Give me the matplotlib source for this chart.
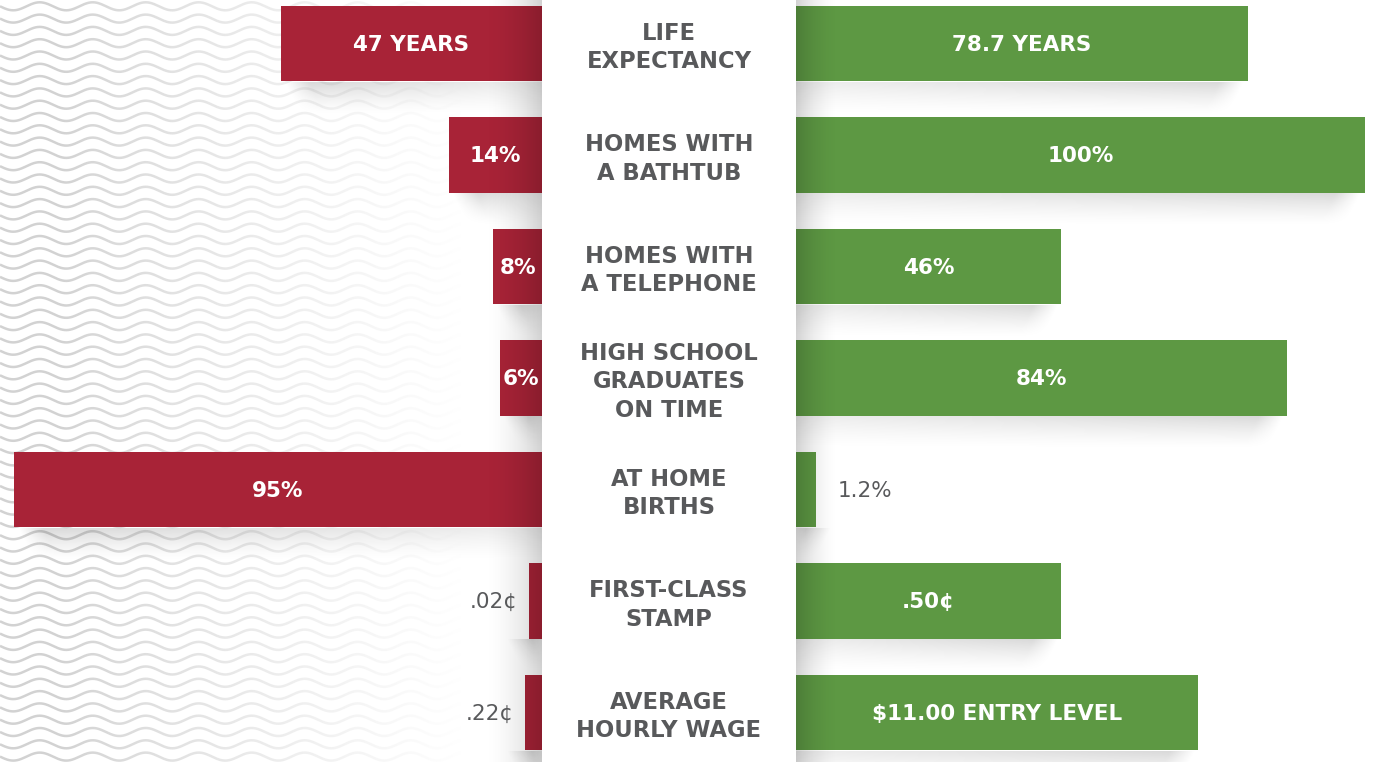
import numpy as np
import matplotlib
matplotlib.use("Agg")
import matplotlib.pyplot as plt

# row labels, top to bottom
categories = ["LIFE\nEXPECTANCY", "HOMES WITH\nA BATHTUB", "HOMES WITH\nA TELEPHONE",
              "HIGH SCHOOL\nGRADUATES\nON TIME", "AT HOME\nBIRTHS",
              "FIRST-CLASS\nSTAMP", "AVERAGE\nHOURLY WAGE"]
then_labels = ["47 YEARS", "14%", "8%", "6%", "95%", ".02\u00a2", ".22\u00a2"]
now_labels = ["78.7 YEARS", "100%", "46%", "84%", "1.2%", ".50\u00a2", "$11.00 ENTRY LEVEL"]
# bar lengths as drawn in the infographic (longest bar = 100)
then_len = [45.9, 16.3, 8.6, 7.4, 92.8, 2.3, 3.0]
now_len = [79.4, 100.0, 46.6, 86.3, 3.5, 46.6, 70.7]

RED = "#a82337"
GREEN = "#5d9843"
GREY = "#58595b"
FONT = "DejaVu Sans"

W, H, DPI = 1373, 762, 100
PX = 5.69          # pixels per length unit
HALF = 22.32       # half width of the centre column, in units
CX = 669           # centre column, pixels

fig = plt.figure(figsize=(W / DPI, H / DPI), dpi=DPI)
fig.patch.set_facecolor("white")

# --- background: wavy lines fading out to the right
bg = fig.add_axes([0, 0, 1, 1], zorder=0)
bg.set_xlim(0, W)
bg.set_ylim(H, 0)
bg.axis("off")
xs = np.linspace(0, 520, 800)
for y0 in np.arange(-6, H + 12, 12.3):
    bg.plot(xs, y0 + 4.0 * np.sin(2 * np.pi * xs / 53.0), color="#d2d2d2", lw=1.8,
            solid_capstyle="butt")
fade = np.ones((2, 600, 4))
gx = np.linspace(0, W, 600)
fade[:, :, 3] = np.clip((gx - 60) / 400.0, 0, 1) ** 0.8
bg.imshow(fade, extent=(0, W, H, 0), aspect="auto", zorder=3, interpolation="bilinear")

# --- main axes in bar-length units
ax = fig.add_axes([0, 0, 1, 1], zorder=1)
ax.patch.set_alpha(0)
ax.axis("off")
n = len(categories)
ys = np.arange(n)
bar_h = 0.673

ax.barh(ys, [-v for v in then_len], left=-HALF, height=bar_h, color=RED, zorder=3)
ax.barh(ys, now_len, left=HALF, height=bar_h, color=GREEN, zorder=3)

# soft shadows under the bars
def bar_shadow(y, length, side):
    nx, ny = 200, 40
    u = np.linspace(0, 1, nx)          # 0 at column, 1 at outer end
    v = np.linspace(0, 1, ny)[:, None]
    Lpx = length * PX
    end = max(Lpx - 28, 10)
    upx = u * (end + 40)
    w = (0.45 + 0.55 * np.clip(upx / end, 0, 1)) * np.clip((end - upx) / 25.0 + 1 - v * 0.6, 0, 1)
    a = 0.15 * (1 - v) ** 1.4 * w[None, :]
    img = np.zeros((ny, nx, 4))
    img[:, :, 3] = a
    top = y + bar_h / 2 + 0.01
    bot = top + 0.30
    x0 = HALF
    x1 = HALF + (end + 40) / PX
    if side < 0:
        img = img[:, ::-1]
        x0, x1 = -x1, -HALF
    ax.imshow(img, extent=(x0, x1, bot, top), aspect="auto", zorder=2,
              interpolation="bilinear")

for i in range(n):
    bar_shadow(ys[i], then_len[i], -1)
    bar_shadow(ys[i], now_len[i], 1)

# shadow cast by the centre column
sh = np.zeros((2, 100, 4))
sh[:, :, 3] = np.linspace(0, 1, 100) ** 1.8 * 0.18
ax.imshow(sh, extent=(-HALF - 60 / PX, -HALF, n, -1), aspect="auto", zorder=4)
sh2 = np.zeros((2, 100, 4))
sh2[:, :, 3] = np.linspace(1, 0, 100) ** 1.8 * 0.18
ax.imshow(sh2, extent=(HALF, HALF + 45 / PX, n, -1), aspect="auto", zorder=4)

ax.axvspan(-HALF, HALF, color="white", zorder=5, lw=0)

# labels
for i in range(n):
    ax.text(0, ys[i] + 0.035, categories[i], ha="center", va="center", ma="center",
            color=GREY, fontsize=16.3, fontweight="bold", family=FONT,
            linespacing=1.3, zorder=6)
    if then_len[i] > 5:
        ax.text(-HALF - then_len[i] / 2, ys[i] + 0.01, then_labels[i], ha="center",
                va="center", color="white", fontsize=15.5, fontweight="bold",
                family=FONT, zorder=6)
    else:
        ax.text(-HALF - then_len[i] - 11 / PX, ys[i] + 0.01, then_labels[i], ha="right",
                va="center", color=GREY, fontsize=15.5, family=FONT, zorder=6)
    if now_len[i] > 5:
        ax.text(HALF + now_len[i] / 2, ys[i] + 0.01, now_labels[i], ha="center",
                va="center", color="white", fontsize=15.5, fontweight="bold",
                family=FONT, zorder=6)
    else:
        ax.text(HALF + now_len[i] + 22 / PX, ys[i] + 0.01, now_labels[i], ha="left",
                va="center", color=GREY, fontsize=15.5, family=FONT, zorder=6)

ax.set_xlim(-CX / PX, (W - CX) / PX)
ax.set_ylim(6.444, -0.39)

fig.savefig("out.png", dpi=DPI, facecolor="white")
